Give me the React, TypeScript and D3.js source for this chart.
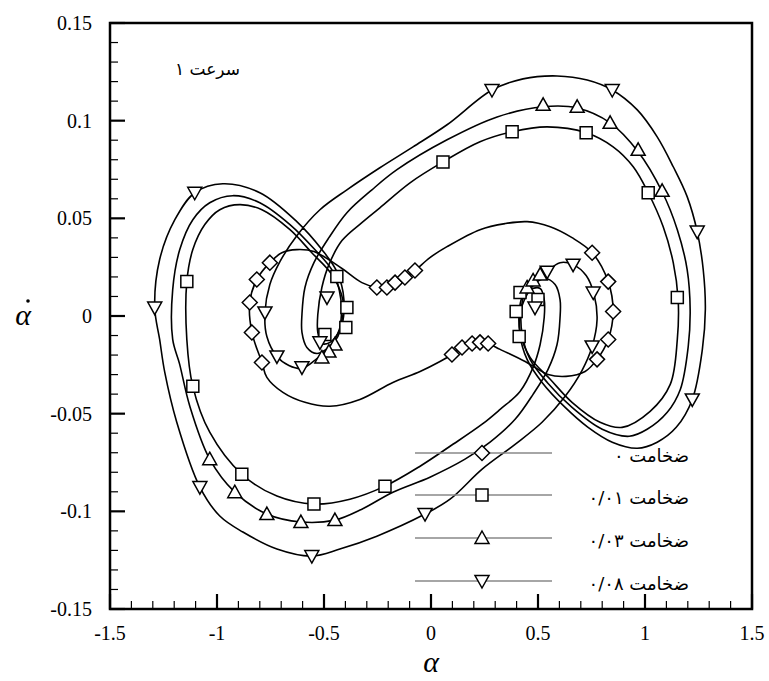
import React from "react";
import * as d3 from "d3";

const WIDTH = 769;
const HEIGHT = 681;
const PLOT = { left: 110, right: 752, top: 23, bottom: 609 };

const X_TICKS = [-1.5, -1, -0.5, 0, 0.5, 1, 1.5];
const Y_TICKS = [-0.15, -0.1, -0.05, 0, 0.05, 0.1, 0.15];
const X_TICK_LABELS = ["-1.5", "-1", "-0.5", "0", "0.5", "1", "1.5"];
const Y_TICK_LABELS = ["-0.15", "-0.1", "-0.05", "0", "0.05", "0.1", "0.15"];

type Pt = [number, number];

// thickness 0 (diamonds)
const PATH_T0: Pt[] = [
  [-0.253, 0.0146], [-0.206, 0.0146], [-0.168, 0.0171], [-0.122, 0.0197], [-0.075, 0.0233],
  [-0.005, 0.0299], [0.075, 0.0355], [0.229, 0.0442], [0.346, 0.0473], [0.449, 0.0483],
  [0.557, 0.0457], [0.659, 0.0401], [0.753, 0.0324], [0.828, 0.0176], [0.851, 0.0023],
  [0.828, -0.012], [0.776, -0.0222], [0.72, -0.0284], [0.631, -0.0309], [0.547, -0.0299],
  [0.44, -0.0233], [0.323, -0.0171], [0.267, -0.0141], [0.229, -0.0135], [0.192, -0.0141],
  [0.145, -0.0161], [0.098, -0.0197], [0.042, -0.0233], [-0.051, -0.0284], [-0.178, -0.034],
  [-0.332, -0.0427], [-0.472, -0.0462], [-0.589, -0.0442], [-0.692, -0.0391], [-0.767, -0.0314],
  [-0.79, -0.0238], [-0.837, -0.0084], [-0.847, 0.0069], [-0.814, 0.0187], [-0.753, 0.0273],
  [-0.697, 0.0324], [-0.627, 0.034], [-0.547, 0.033], [-0.416, 0.0243], [-0.323, 0.0171],
];
const MARK_T0: Pt[] = [
  [0.753, 0.0324], [0.828, 0.0176], [0.851, 0.0023], [0.828, -0.012], [0.776, -0.0222],
  [0.098, -0.0197], [0.145, -0.0161], [0.192, -0.0141], [0.229, -0.0135], [0.267, -0.0141],
  [-0.253, 0.0146], [-0.206, 0.0146], [-0.168, 0.0171], [-0.122, 0.0197], [-0.075, 0.0233],
  [-0.753, 0.0273], [-0.814, 0.0187], [-0.847, 0.0069], [-0.837, -0.0084], [-0.79, -0.0238],
];

// thickness 0.01 (squares)
const PATH_T1: Pt[] = [
  [0.426, 0.0095], [0.463, 0.0135], [0.51, 0.0141], [0.529, 0.0084], [0.529, -0.0008],
  [0.51, -0.0146], [0.477, -0.0263], [0.416, -0.0386], [0.323, -0.0478], [0.239, -0.0554],
  [0.089, -0.0667], [-0.051, -0.0769], [-0.215, -0.0871], [-0.379, -0.0938], [-0.547, -0.0963],
  [-0.72, -0.0922], [-0.884, -0.081], [-1.034, -0.0595], [-1.113, -0.036], [-1.141, -0.012],
  [-1.141, 0.0176], [-1.113, 0.034], [-1.057, 0.0468], [-0.987, 0.0544], [-0.893, 0.057],
  [-0.79, 0.0544], [-0.659, 0.0442], [-0.557, 0.0324], [-0.463, 0.0212], [-0.412, 0.0084],
  [-0.412, -0.0028], [-0.435, -0.0089], [-0.472, -0.0135], [-0.51, -0.0141], [-0.529, -0.0084],
  [-0.529, 0.0008], [-0.51, 0.0146], [-0.477, 0.0263], [-0.416, 0.0386], [-0.323, 0.0478],
  [-0.239, 0.0554], [-0.098, 0.0682], [0.056, 0.0789], [0.229, 0.0892], [0.379, 0.0943],
  [0.543, 0.0968], [0.725, 0.0938], [0.851, 0.0866], [0.945, 0.0764], [1.015, 0.0631],
  [1.085, 0.0457], [1.132, 0.0273], [1.155, 0.0084], [1.151, -0.012], [1.118, -0.035],
  [1.024, -0.0488], [0.893, -0.057], [0.79, -0.0544], [0.659, -0.0442], [0.557, -0.0324],
  [0.463, -0.0212], [0.416, -0.0084], [0.412, 0.0018],
];
const MARK_T1: Pt[] = [
  [-1.141, 0.0176], [-1.113, -0.036], [-0.884, -0.081], [-0.547, -0.0963], [-0.215, -0.0871],
  [0.056, 0.0789], [0.379, 0.0943], [0.725, 0.0938], [1.015, 0.0631], [1.151, 0.0095],
  [0.416, 0.012], [0.5, 0.0084], [0.398, 0.0023], [0.412, -0.0105],
  [-0.44, 0.0202], [-0.393, 0.0043], [-0.398, -0.0059], [-0.496, -0.0095],
];

// thickness 0.03 (triangles up)
const PATH_T3: Pt[] = [
  [0.435, 0.0105], [0.472, 0.0156], [0.533, 0.0192], [0.58, 0.0161], [0.603, 0.0084],
  [0.603, -0.0008], [0.589, -0.0146], [0.547, -0.0273], [0.477, -0.0401], [0.393, -0.0529],
  [0.276, -0.0646], [0.159, -0.0733], [-0.005, -0.0825], [-0.178, -0.0902], [-0.323, -0.0989],
  [-0.449, -0.1045], [-0.608, -0.1055], [-0.767, -0.1014], [-0.917, -0.0902], [-1.034, -0.0733],
  [-1.127, -0.0462], [-1.175, -0.0245], [-1.207, -0.012], [-1.207, 0.0135], [-1.174, 0.034],
  [-1.113, 0.0493], [-1.034, 0.058], [-0.926, 0.0616], [-0.8, 0.058], [-0.659, 0.0468],
  [-0.543, 0.034], [-0.458, 0.0227], [-0.421, 0.0084], [-0.421, -0.0028], [-0.435, -0.0105],
  [-0.472, -0.0156], [-0.533, -0.0192], [-0.58, -0.0161], [-0.603, -0.0084], [-0.603, 0.0008],
  [-0.589, 0.0146], [-0.547, 0.0273], [-0.477, 0.0401], [-0.393, 0.0529], [-0.276, 0.0646],
  [-0.159, 0.0749], [0.075, 0.0902], [0.309, 0.1019], [0.524, 0.1071], [0.683, 0.1065],
  [0.837, 0.0989], [0.968, 0.0841], [1.08, 0.0636], [1.151, 0.0442], [1.197, 0.0238],
  [1.211, 0.0033], [1.202, -0.0156], [1.165, -0.0376], [1.104, -0.0493], [1.01, -0.058],
  [0.926, -0.0616], [0.8, -0.058], [0.659, -0.0468], [0.543, -0.034], [0.463, -0.0222],
  [0.426, -0.0095], [0.421, 0.0023],
];
const MARK_T3: Pt[] = [
  [0.524, 0.1081], [0.683, 0.1071], [0.837, 0.0989], [0.968, 0.0851], [1.08, 0.0641],
  [-1.034, -0.0733], [-0.917, -0.0902], [-0.767, -0.1014], [-0.608, -0.1055], [-0.449, -0.1045],
  [0.449, 0.0146], [0.477, 0.0182], [0.51, 0.0212],
  [-0.449, -0.0146], [-0.477, -0.0182], [-0.51, -0.0212],
];

// thickness 0.08 (triangles down)
const PATH_T8: Pt[] = [
  [0.463, 0.0135], [0.543, 0.0227], [0.603, 0.0273], [0.664, 0.0263], [0.725, 0.0207],
  [0.762, 0.011], [0.776, -0.0018], [0.753, -0.0156], [0.706, -0.0278], [0.627, -0.0411],
  [0.519, -0.0544], [0.393, -0.0657], [0.239, -0.0784], [0.089, -0.0938], [-0.028, -0.1014],
  [-0.253, -0.1127], [-0.426, -0.1193], [-0.557, -0.1229], [-0.72, -0.1193], [-0.879, -0.1106],
  [-0.987, -0.1024], [-1.08, -0.0876], [-1.188, -0.0544], [-1.244, -0.0289], [-1.268, -0.012],
  [-1.291, 0.0043], [-1.268, 0.0289], [-1.197, 0.0493], [-1.104, 0.0631], [-0.973, 0.0677],
  [-0.8, 0.0631], [-0.627, 0.0483], [-0.51, 0.034], [-0.44, 0.0227], [-0.407, 0.0084],
  [-0.421, -0.0043], [-0.463, -0.0146], [-0.543, -0.0227], [-0.603, -0.0268], [-0.664, -0.0253],
  [-0.72, -0.0207], [-0.767, -0.0105], [-0.776, 0.0018], [-0.753, 0.0161], [-0.706, 0.0278],
  [-0.627, 0.0411], [-0.519, 0.0544], [-0.393, 0.0646], [-0.239, 0.0759], [-0.084, 0.0866],
  [0.075, 0.0979], [0.285, 0.1157], [0.43, 0.1214], [0.589, 0.1229], [0.73, 0.1208],
  [0.847, 0.1157], [0.964, 0.1055], [1.057, 0.0917], [1.132, 0.0764], [1.197, 0.0611],
  [1.244, 0.0432], [1.272, 0.0238], [1.282, 0.0033], [1.268, -0.0171], [1.221, -0.0427],
  [1.146, -0.057], [1.057, -0.0646], [0.964, -0.0677], [0.847, -0.0646], [0.734, -0.057],
  [0.627, -0.0468], [0.519, -0.034], [0.449, -0.0222], [0.416, -0.0095], [0.421, 0.0033],
];
const MARK_T8: Pt[] = [
  [-1.291, 0.0043], [-1.104, 0.0631], [-1.08, -0.0876], [-0.557, -0.1229], [-0.028, -0.1014],
  [0.285, 0.1157], [0.847, 0.1157], [1.244, 0.0432], [1.221, -0.0427],
  [0.543, 0.0227], [0.664, 0.0263], [0.758, 0.012], [0.753, -0.0156], [0.486, 0.0043],
  [-0.776, 0.0018], [-0.72, -0.0207], [-0.603, -0.0263], [-0.486, 0.0095], [-0.519, -0.0135],
];

const SERIES = [
  { label: "ضخامت ۰", shape: "diamond", path: PATH_T0, marks: MARK_T0 },
  { label: "ضخامت ۰/۰۱", shape: "square", path: PATH_T1, marks: MARK_T1 },
  { label: "ضخامت ۰/۰۳", shape: "triUp", path: PATH_T3, marks: MARK_T3 },
  { label: "ضخامت ۰/۰۸", shape: "triDown", path: PATH_T8, marks: MARK_T8 },
];

const LEGEND_ROWS = [453, 495, 538, 581];

const SHAPES: Record<string, string> = {
  diamond: "M0,-7.5L7.5,0L0,7.5L-7.5,0Z",
  square: "M-6,-6H6V6H-6Z",
  triUp: "M0,-7L7,5.5L-7,5.5Z",
  triDown: "M0,7L7,-5.5L-7,-5.5Z",
};

function Marker({ shape, cx, cy }: { shape: string; cx: number; cy: number }) {
  return (
    <path
      d={SHAPES[shape]}
      transform={`translate(${cx},${cy})`}
      fill="#fff"
      stroke="#000"
      strokeWidth={1.5}
    />
  );
}

export default function App() {
  const x = d3.scaleLinear().domain([-1.5, 1.5]).range([PLOT.left, PLOT.right]);
  const y = d3.scaleLinear().domain([-0.15, 0.15]).range([PLOT.bottom, PLOT.top]);

  const line = d3
    .line<Pt>()
    .x((d) => x(d[0]))
    .y((d) => y(d[1]))
    .curve(d3.curveCatmullRomClosed.alpha(0.5));

  const xMinor = d3.range(-1.4, 1.45, 0.1).filter((v) => Math.abs(v * 2 - Math.round(v * 2)) > 0.01);
  const yMinor = d3.range(-0.14, 0.145, 0.01).filter((v) => Math.abs(v * 20 - Math.round(v * 20)) > 0.01);

  const serif = "Liberation Serif, DejaVu Serif, serif";
  const arabic = "DejaVu Sans, sans-serif";

  return (
    <svg
      width={WIDTH}
      height={HEIGHT}
      style={{ position: "absolute", left: 0, top: 0, background: "#fff" }}
    >
      <rect width={WIDTH} height={HEIGHT} fill="#fff" />

      {/* curves */}
      {SERIES.map((s) => (
        <path key={s.label} d={line(s.path) || ""} fill="none" stroke="#000" strokeWidth={1.6} />
      ))}

      {/* markers */}
      {SERIES.map((s) =>
        s.marks.map((m, i) => (
          <Marker key={s.label + i} shape={s.shape} cx={x(m[0])} cy={y(m[1])} />
        ))
      )}

      {/* legend */}
      {SERIES.map((s, i) => (
        <g key={"lg" + i}>
          <line x1={415} x2={552} y1={LEGEND_ROWS[i]} y2={LEGEND_ROWS[i]} stroke="#888" strokeWidth={1.3} />
          <Marker shape={s.shape} cx={482} cy={LEGEND_ROWS[i]} />
          <text
            x={689}
            y={LEGEND_ROWS[i] + 9}
            textAnchor="end"
            fontFamily={arabic}
            fontSize={18}
            fill="#000"
          >
            {s.label}
          </text>
        </g>
      ))}

      <text x={240} y={75} textAnchor="end" fontFamily={arabic} fontSize={17} fill="#000">
        سرعت ۱
      </text>

      {/* ticks */}
      {X_TICKS.map((t) => (
        <line key={"xt" + t} x1={x(t)} x2={x(t)} y1={PLOT.bottom} y2={PLOT.bottom - 15} stroke="#000" strokeWidth={2.2} />
      ))}
      {xMinor.map((t) => (
        <line key={"xm" + t} x1={x(t)} x2={x(t)} y1={PLOT.bottom} y2={PLOT.bottom - 8} stroke="#000" strokeWidth={1.2} />
      ))}
      {Y_TICKS.map((t) => (
        <line key={"yt" + t} x1={PLOT.left} x2={PLOT.left + 15} y1={y(t)} y2={y(t)} stroke="#000" strokeWidth={2.2} />
      ))}
      {yMinor.map((t) => (
        <line key={"ym" + t} x1={PLOT.left} x2={PLOT.left + 8} y1={y(t)} y2={y(t)} stroke="#000" strokeWidth={1.2} />
      ))}

      <rect
        x={PLOT.left}
        y={PLOT.top}
        width={PLOT.right - PLOT.left}
        height={PLOT.bottom - PLOT.top}
        fill="none"
        stroke="#000"
        strokeWidth={2.5}
      />

      {/* tick labels */}
      {X_TICKS.map((t, i) => (
        <text key={"xl" + t} x={x(t)} y={640} textAnchor="middle" fontFamily={serif} fontSize={20} fill="#000">
          {X_TICK_LABELS[i]}
        </text>
      ))}
      {Y_TICKS.map((t, i) => (
        <text key={"yl" + t} x={92} y={y(t) + 7} textAnchor="end" fontFamily={serif} fontSize={20} fill="#000">
          {Y_TICK_LABELS[i]}
        </text>
      ))}

      {/* axis titles */}
      <text x={x(0)} y={672} textAnchor="middle" fontFamily={serif} fontStyle="italic" fontSize={30} fill="#000">
        α
      </text>
      <text x={23} y={325} textAnchor="middle" fontFamily={serif} fontStyle="italic" fontSize={30} fill="#000">
        α
      </text>
      <circle cx={28} cy={301} r={1.8} fill="#000" />
    </svg>
  );
}
